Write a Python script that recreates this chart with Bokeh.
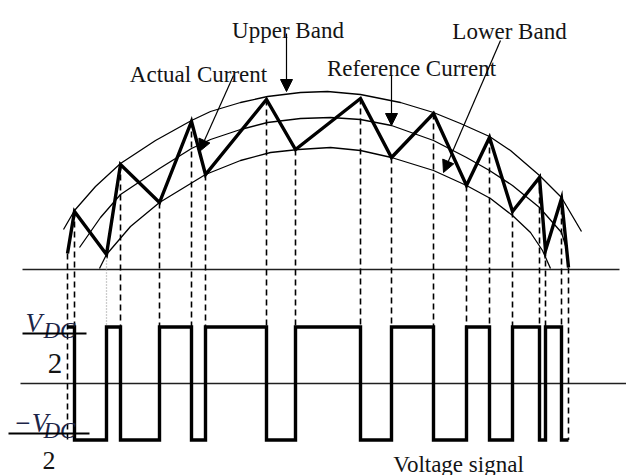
from bokeh.plotting import figure
from bokeh.models import Range1d, Arrow, NormalHead
from bokeh.core.properties import value
from bokeh.embed import file_html
from bokeh.resources import INLINE

# ---------------- data (time in ms, current in A, voltage in units of Vdc/2) ----------------
# switching instants = vertices of the actual current
switch_t = [0.00, 0.14, 0.78, 1.06, 1.84, 2.48, 2.76, 3.98, 4.56, 5.86,
            6.48, 7.32, 7.98, 8.44, 8.90, 9.44, 9.56, 9.88, 10.02]
actual_i = [1.6, 5.8, 1.5, 10.5, 6.7, 14.8, 9.5, 17.0, 12.0, 17.1,
            11.2, 15.6, 8.4, 13.2, 5.8, 9.2, 1.9, 7.1, 0.2]
# inverter voltage between consecutive switching instants (+1 = +Vdc/2, -1 = -Vdc/2)
voltage_level = [1, -1, 1, -1, 1, -1, 1, -1, 1, -1, 1, -1, 1, -1, 1, -1, 1, -1]

upper_t = [-0.08, 0.14, 0.56, 1.06, 1.76, 2.48, 2.86, 3.46, 4.00, 4.66,
           5.20, 5.86, 6.66, 7.32, 7.86, 8.44, 8.86, 9.44, 9.88, 10.28]
upper_i = [4.0, 5.9, 8.3, 10.6, 12.9, 14.9, 15.8, 16.7, 17.3, 17.7,
           17.8, 17.5, 16.7, 15.7, 14.6, 13.3, 11.9, 9.4, 7.2, 3.8]

ref_t = [0.24, 0.66, 1.06, 1.84, 2.48, 2.86, 3.46, 4.00, 4.66, 5.26,
         5.86, 6.48, 7.32, 7.98, 8.44, 8.90, 9.44, 9.88, 9.96, 10.02]
ref_i = [2.2, 5.2, 7.5, 10.1, 12.1, 13.0, 14.0, 14.7, 15.1, 15.2,
         15.0, 14.4, 12.9, 11.2, 9.9, 8.4, 6.2, 3.7, 2.4, 0.9]

lower_t = [0.64, 0.78, 1.26, 1.84, 2.76, 3.46, 4.06, 4.62, 5.26, 5.86,
           6.48, 7.32, 7.98, 8.46, 8.90, 9.26, 9.50, 9.66]
lower_i = [0.1, 1.5, 4.3, 6.7, 9.5, 10.9, 11.7, 12.0, 12.2, 11.9,
           11.2, 9.9, 8.4, 7.1, 5.4, 3.7, 1.9, 0.1]

# placement of the voltage trace below the current plot
V_ZERO = -11.4
V_UNIT = 5.65

FONT = value("Liberation Serif")
TXT = "#141414"
VDC_COLOR = "#1c2548"

p = figure(width=626, height=475,
           x_range=Range1d(-1.34, 11.18), y_range=Range1d(-20.6, 26.9),
           output_backend="svg", toolbar_location=None,
           x_axis_type=None, y_axis_type=None, min_border=0,
           outline_line_color=None,
           background_fill_color="white", border_fill_color="white")
p.grid.visible = False

# axis lines
p.line([-0.9, 11.04], [0, 0], line_color="#202020", line_width=1.5)
p.line([-0.94, 11.3], [V_ZERO, V_ZERO], line_color="#202020", line_width=1.5)

# dashed projections from current vertices to the voltage signal
top_y = V_ZERO + V_UNIT
bot_y = V_ZERO - V_UNIT
n = len(switch_t)
ends = [bot_y if k in (0, n - 1) else top_y for k in range(n)]
dash_idx = [k for k in range(n) if k != 2]
p.segment(x0=[switch_t[k] for k in dash_idx], y0=[actual_i[k] for k in dash_idx],
          x1=[switch_t[k] for k in dash_idx], y1=[ends[k] for k in dash_idx],
          line_color="black", line_width=1.6, line_dash="6 4")
p.segment(x0=[switch_t[2]], y0=[actual_i[2]], x1=[switch_t[2]], y1=[ends[2]],
          line_color="#9a9a9a", line_width=1.3, line_dash="1 2")

# bands and reference
p.line(upper_t, upper_i, line_color="black", line_width=1.3)
p.line(ref_t, ref_i, line_color="black", line_width=1.3)
p.line(lower_t, lower_i, line_color="black", line_width=1.3)

# actual current
p.line(switch_t, actual_i, line_color="black", line_width=3.4, line_join="miter")

# voltage signal
wx, wy = [], []
for k, lev in enumerate(voltage_level):
    wx += [switch_t[k], switch_t[k + 1]]
    wy += [V_ZERO + lev * V_UNIT, V_ZERO + lev * V_UNIT]
p.line(wx, wy, line_color="black", line_width=3.4, line_join="miter")

# annotation texts
p.text(x=[4.41, 2.62, 6.88, 8.84], y=[23.9, 19.5, 20.1, 23.8],
       text=["Upper Band", "Actual Current", "Reference Current", "Lower Band"],
       text_font=FONT, text_font_size="23px", text_color=TXT,
       text_align="center", text_baseline="alphabetic")
p.text(x=[7.82], y=[-19.45], text=["Voltage signal"],
       text_font=FONT, text_font_size="23px", text_color=TXT,
       text_align="center", text_baseline="alphabetic")

# arrows
arrows = [((4.38, 23.6), (4.38, 17.8)),
          ((3.32, 19.4), (2.64, 11.8)),
          ((6.48, 19.4), (6.48, 14.4)),
          ((8.66, 22.9), (7.52, 9.7))]
for (xs, ys), (xe, ye) in arrows:
    p.add_layout(Arrow(end=NormalHead(size=12, fill_color="black", line_color="black", line_width=1),
                       x_start=xs, y_start=ys, x_end=xe, y_end=ye,
                       line_color="black", line_width=1.2))

# Vdc/2 labels
p.text(x=[-0.84], y=[-5.3], text=["V"], text_font=FONT, text_font_style="italic",
       text_font_size="27px", text_color=VDC_COLOR, text_baseline="alphabetic")
p.text(x=[-0.48, -0.48], y=[-6.1, -16.1], text=["DC", "DC"], text_font=FONT,
       text_font_style="italic", text_font_size="23px", text_color=VDC_COLOR,
       text_baseline="alphabetic")
p.text(x=[-1.08], y=[-15.3], text=["\u2212V"], text_font=FONT, text_font_style="italic",
       text_font_size="27px", text_color=VDC_COLOR, text_baseline="alphabetic")
p.segment(x0=[-0.9, -1.18], y0=[-6.4, -16.4], x1=[0.38, 0.44], y1=[-6.4, -16.4],
          line_color="black", line_width=2.2)
p.text(x=[-0.25], y=[-9.4], text=["2"], text_font=FONT, text_font_size="29px",
       text_color=TXT, text_align="center", text_baseline="alphabetic")
p.text(x=[-0.37], y=[-19.1], text=["2"], text_font=FONT, text_font_size="26px",
       text_color=TXT, text_align="center", text_baseline="alphabetic")

open("out.html", "w").write(file_html(p, INLINE))
